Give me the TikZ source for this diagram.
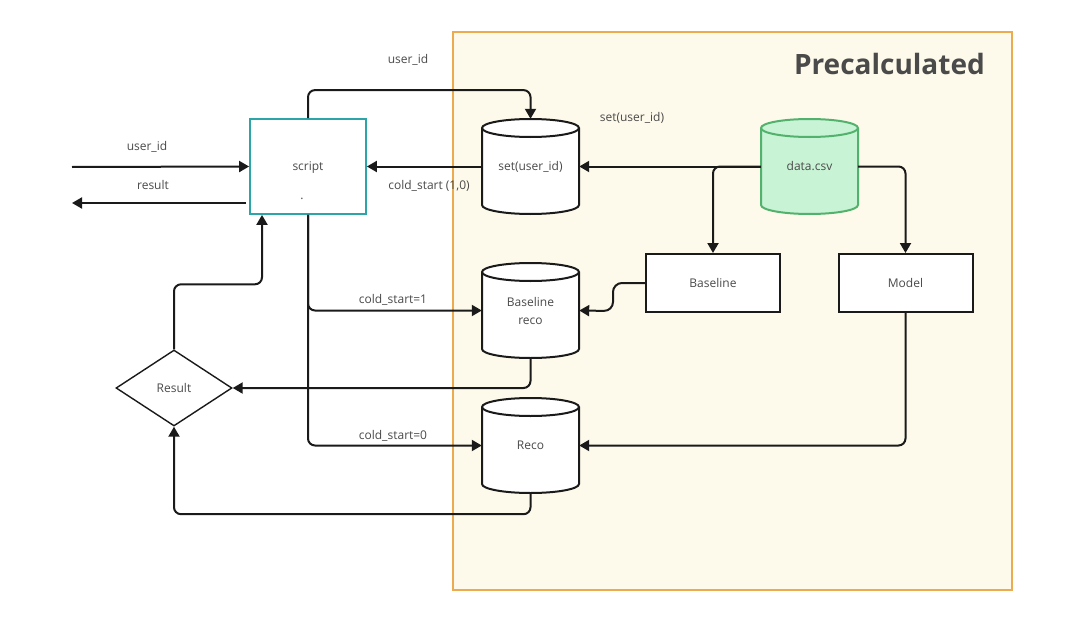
\documentclass[tikz,border=0pt]{standalone}
\usepackage{fontspec}
\setmainfont{Open Sans}
\usetikzlibrary{shapes.geometric,arrows.meta,calc}
\definecolor{cream}{HTML}{FEFAEB}
\definecolor{orangeb}{HTML}{EBAB4E}
\definecolor{tealb}{HTML}{2BA5A8}
\definecolor{greenf}{HTML}{C8F3D4}
\definecolor{greenb}{HTML}{52B26D}
\definecolor{txt}{HTML}{4A4A4A}
\definecolor{ln}{HTML}{1A1A1A}
\tikzset{
  conn/.style={draw=ln, line width=2pt, -{Triangle[length=10pt,width=11pt]}, rounded corners=7pt},
  txtst/.style={text=txt, font=\fontsize{12}{14}\selectfont},
  lbl/.style={txtst, inner sep=1pt},
  cylnode/.style={rectangle, minimum width=97pt, minimum height=95pt, inner sep=0pt, txtst, align=center},
  boxst/.style={rectangle, draw=ln, line width=2pt, fill=white, minimum width=134pt, minimum height=58pt, txtst},
}
\newcommand\mycyl[6]{%
  \filldraw[fill=#4, draw=#5, line width=2pt]
    ({#2-48.5},{#3-38.5}) -- ({#2-48.5},{#3+38.5})
    arc[start angle=180,end angle=360,x radius=48.5pt,y radius=9pt]
    -- ({#2+48.5},{#3-38.5})
    arc[start angle=0,end angle=180,x radius=48.5pt,y radius=9pt] -- cycle;
  \draw[draw=#5, line width=2pt] ({#2-48.5},{#3-38.5})
    arc[start angle=180,end angle=360,x radius=48.5pt,y radius=9pt];
  \node[cylnode] (#1) at (#2,#3) {#6};}
\begin{document}
\begin{tikzpicture}[x=1pt,y=-1pt]
\useasboundingbox (0,0) rectangle (1079,626);
\fill[white] (0,0) rectangle (1079,626);
% Precalculated region
\node[rectangle, draw=orangeb, fill=cream, line width=1.5pt, minimum width=559pt, minimum height=558pt, inner sep=0pt] (pre) at (732.5,311) {};
\node[anchor=east, text=txt, font=\fontsize{28}{32}\bfseries\selectfont, inner sep=0pt] (title) at (985,64) {Precalculated};

% script box
\node[rectangle, draw=tealb, fill=white, line width=1.8pt, minimum width=116pt, minimum height=95pt, inner sep=0pt, txtst] (scr) at (308,166.5) {};
\node[txtst, inner sep=0pt] (scrt) at (308,167.5) {script};
\node[txtst, inner sep=0pt] (scrd) at (302,199) {.};

% cylinders
\mycyl{su}{530.5}{166.5}{white}{ln}{set(user\_id)}
\mycyl{dc}{809.5}{166.5}{greenf}{greenb}{data.csv}
\mycyl{br}{530.5}{310.5}{white}{ln}{Baseline\\[4pt]reco}
\mycyl{rc}{530.5}{445.5}{white}{ln}{Reco}

% boxes
\node[boxst] (bl) at (713,283) {Baseline};
\node[boxst] (md) at (905.5,283) {Model};

% decision
\node[diamond, draw=ln, line width=1.4pt, fill=white, aspect=1.53, minimum width=116pt, minimum height=76pt, inner sep=0pt, txtst] (res) at (174,388) {Result};

% free ends
\coordinate (in1) at (72,167);
\coordinate (out1) at (246,203);
\coordinate (out2) at (72,203);

% connectors
\draw[conn] (in1) -- (scr.west);
\draw[conn] (out1) -- (out2);
\draw[conn] (scr.north) -- ++(0,-28) -| (su.north);
\draw[conn] (su.west) -- (scr.east);
\draw[conn] (dc.west) -- (su.east);
\draw[conn] (dc.west) -| (bl.north);
\draw[conn] (dc.east) -| (md.north);
\draw[conn, rounded corners=9pt] (bl.west) -- ++(-32,0) -- ++(0,28) -- (br.east);
\draw[conn] (scr.south) |- (br.west);
\draw[conn] (scr.south) |- (rc.west);
\draw[conn] (br.south) |- (res.east);
\draw[conn] (rc.south) -- ++(0,21) -| (res.south);
\draw[conn] (res.north) -- ++(0,-65) -| ([xshift=-46pt]scr.south);
\draw[conn] (md.south) |- (rc.east);

% labels
\node[lbl] (l1) at (147,147) {user\_id};
\node[lbl] (l2) at (153,185) {result};
\node[lbl] (l3) at (408,60) {user\_id};
\node[lbl] (l4) at (429,186) {cold\_start (1,0)};
\node[lbl] (l5) at (632,118) {set(user\_id)};
\node[lbl] (l6) at (393,300) {cold\_start=1};
\node[lbl] (l7) at (393,436) {cold\_start=0};
\end{tikzpicture}
\end{document}
